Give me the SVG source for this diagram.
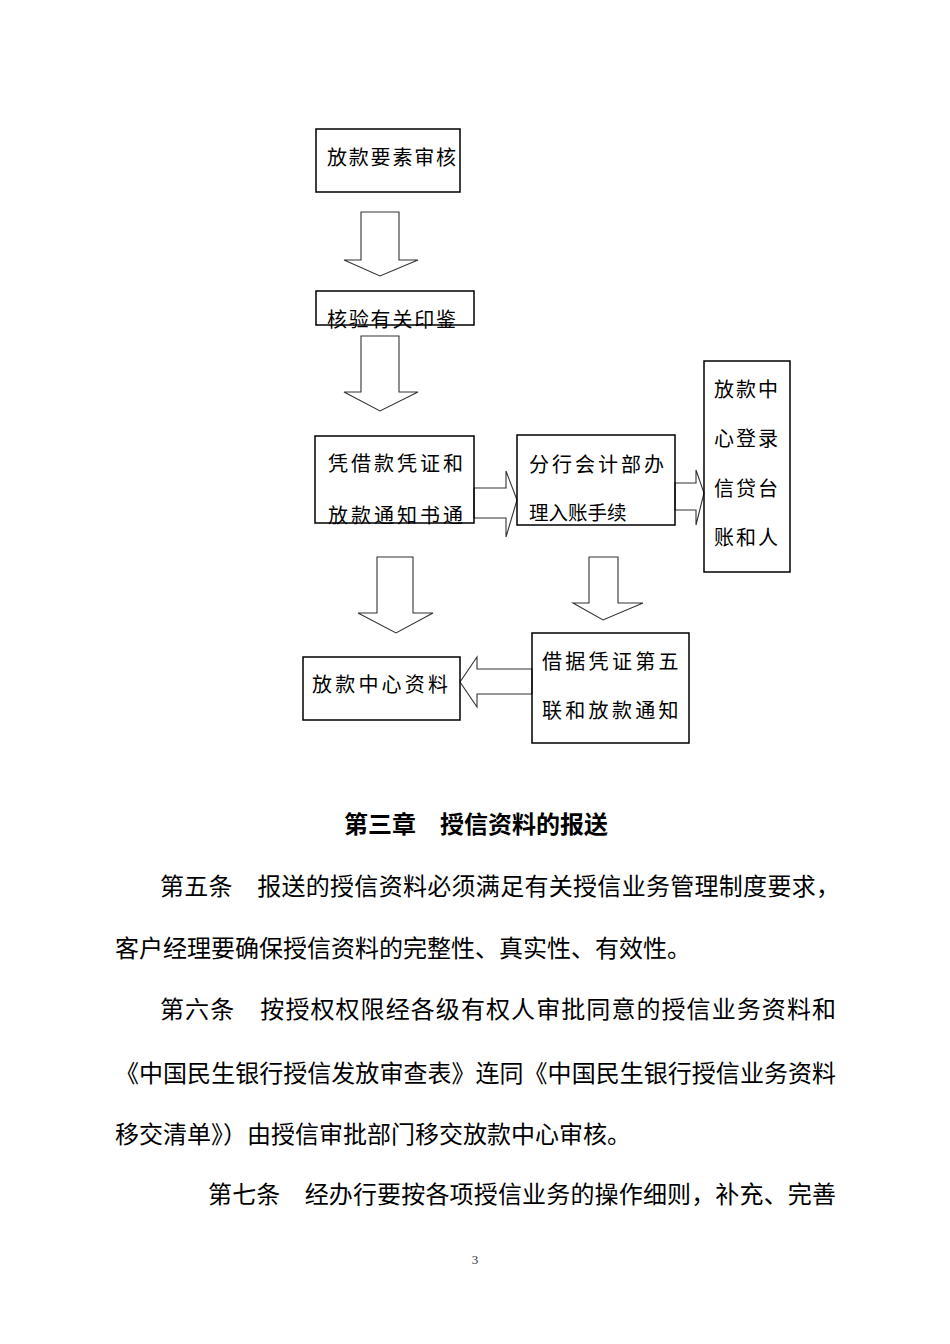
<svg xmlns="http://www.w3.org/2000/svg" width="950" height="1344" viewBox="0 0 950 1344">
<style>
.bx{fill:none;stroke:#000;stroke-width:1.5}
.t{font-family:"Noto Sans CJK SC","Noto Sans",sans-serif;font-size:20px;fill:#000}
.ar{fill:#fff;stroke:#333;stroke-width:1.1;stroke-linejoin:miter}
.b{font-family:"Noto Sans CJK SC","Noto Sans",sans-serif;font-size:24px;fill:#000}
.h{font-family:"Noto Sans CJK SC","Noto Sans",sans-serif;font-size:24px;font-weight:700;fill:#000}
.pg{font-family:"Liberation Serif",serif;font-size:13px;fill:#333}
</style>
<rect width="950" height="1344" fill="#fff"/>
<g id="connectors">
<polygon class="ar" points="361,212 399,212 399,260 418,260 380,276 344,260 361,260"/>
<polygon class="ar" points="361,336 399,336 399,392 418,392 380,411 344,392 361,392"/>
<polygon class="ar" points="377,557 413,557 413,613 433,613 396,633 358,613 377,613"/>
<polygon class="ar" points="589,557 618,557 618,603 643,603 603,620 573,603 589,603"/>
<polygon class="ar" points="474,488 506,488 506,471 517,500 506,537 506,518 474,518"/>
<polygon class="ar" points="675,483 696,483 696,470 704,493 696,525 696,510 675,510"/>
<polygon class="ar" points="532,669 477,669 477,657 460,682 477,707 477,694 532,694"/>
</g>
<g id="n1">
<text class="t" x="327" y="165" letter-spacing="1.8">放款要素审核</text>
<rect class="bx" x="316" y="129" width="144" height="63"/>
</g>
<g id="n2">
<text class="t" x="327" y="327" letter-spacing="1.8">核验有关印鉴</text>
<rect class="bx" x="316" y="291" width="158" height="34"/>
</g>
<g id="n3">
<text class="t" x="328" y="471" letter-spacing="3">凭借款凭证和</text>
<text class="t" x="328" y="523" letter-spacing="3">放款通知书通</text>
<rect class="bx" x="315" y="436" width="159" height="87"/>
</g>
<g id="n4">
<text class="t" x="529" y="472" letter-spacing="3">分行会计部办</text>
<text class="t" x="529" y="520" style="font-size:19.5px">理入账手续</text>
<rect class="bx" x="517" y="435" width="158" height="90"/>
</g>
<g id="n5">
<text class="t" x="714" y="397" letter-spacing="2">放款中</text>
<text class="t" x="714" y="446" letter-spacing="2">心登录</text>
<text class="t" x="714" y="496" letter-spacing="2">信贷台</text>
<text class="t" x="714" y="545" letter-spacing="2">账和人</text>
<rect class="bx" x="704" y="361" width="86" height="211"/>
</g>
<g id="n6">
<text class="t" x="312" y="692" letter-spacing="3.2">放款中心资料</text>
<rect class="bx" x="303" y="657" width="157" height="63"/>
</g>
<g id="n7">
<text class="t" x="542" y="669" letter-spacing="3.3">借据凭证第五</text>
<text class="t" x="542" y="718" letter-spacing="3.3">联和放款通知</text>
<rect class="bx" x="532" y="633" width="157" height="110"/>
</g>
<g id="body">
<text class="h" x="344" y="833">第三章　授信资料的报送</text>
<text class="b" x="160" y="895" textLength="680" lengthAdjust="spacing">第五条　报送的授信资料必须满足有关授信业务管理制度要求，</text>
<text class="b" x="115" y="957">客户经理要确保授信资料的完整性、真实性、有效性。</text>
<text class="b" x="160" y="1018" textLength="676" lengthAdjust="spacing">第六条　按授权权限经各级有权人审批同意的授信业务资料和</text>
<text class="b" x="115" y="1082" textLength="721" lengthAdjust="spacing">《中国民生银行授信发放审查表》连同《中国民生银行授信业务资料</text>
<text class="b" x="115" y="1143">移交清单》）由授信审批部门移交放款中心审核。</text>
<text class="b" x="208" y="1203" textLength="628" lengthAdjust="spacing">第七条　经办行要按各项授信业务的操作细则，补充、完善</text>
<text class="pg" x="475" y="1264" text-anchor="middle">3</text>
</g>
</svg>
